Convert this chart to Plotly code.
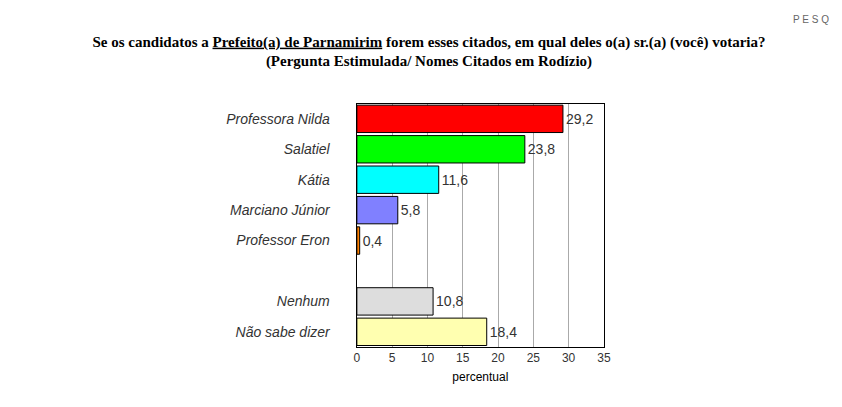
import plotly.graph_objects as go

candidatos = ["Professora Nilda", "Salatiel", "Kátia", "Marciano Júnior", "Professor Eron", " ", "Nenhum", "Não sabe dizer"]
percentual = [29.2, 23.8, 11.6, 5.8, 0.4, None, 10.8, 18.4]
cores = ["#FF0000", "#00FF00", "#00FFFF", "#8080FF", "#FF8000", "#FFFFFF", "#DDDDDD", "#FFFFB0"]
rotulos = ["" if v is None else f"{v:.1f}".replace(".", ",") for v in percentual]

fig = go.Figure(go.Bar(
    y=candidatos, x=percentual, orientation="h",
    marker=dict(color=cores, line=dict(color="black", width=1)),
    text=rotulos, textposition="outside", cliponaxis=False,
    textfont=dict(family="Liberation Sans", size=14, color="#333333"),
))

fig.update_layout(
    width=842, height=407, margin=dict(l=0, r=0, t=0, b=0),
    paper_bgcolor="white", plot_bgcolor="white",
    showlegend=False, bargap=0.1,
    title=dict(
        text="<b>Se os candidatos a <u>Prefeito(a) de Parnamirim</u> forem esses citados, em qual deles o(a) sr.(a) (você) votaria?<br>(Pergunta Estimulada/ Nomes Citados em Rodízio)</b>",
        x=0.5, xanchor="center", y=0.905, yanchor="top",
        font=dict(family="Liberation Serif", size=15, color="black"),
    ),
    xaxis=dict(
        domain=[0.4157, 0.7126], range=[0, 35], dtick=5,
        showgrid=True, gridcolor="#AAAAAA", gridwidth=1,
        showline=True, linecolor="black", mirror=True, zeroline=False,
        tickfont=dict(family="Liberation Sans", size=12, color="#333333"),
        title=dict(text="percentual", font=dict(family="Liberation Sans", size=12, color="black"), standoff=8),
    ),
    yaxis=dict(
        domain=[0.167, 0.765], autorange="reversed",
        showline=True, linecolor="black", mirror=True, ticks="",
        tickfont=dict(family="Liberation Sans", size=14, color="#333333", style="italic"),
        ticksuffix="      ",
    ),
)

fig.add_annotation(text="P E S Q", xref="paper", yref="paper", x=0.985, y=0.99,
                   xanchor="right", yanchor="top", showarrow=False,
                   font=dict(family="Liberation Sans", size=10, color="#666666"))

fig.write_html("out.html")
